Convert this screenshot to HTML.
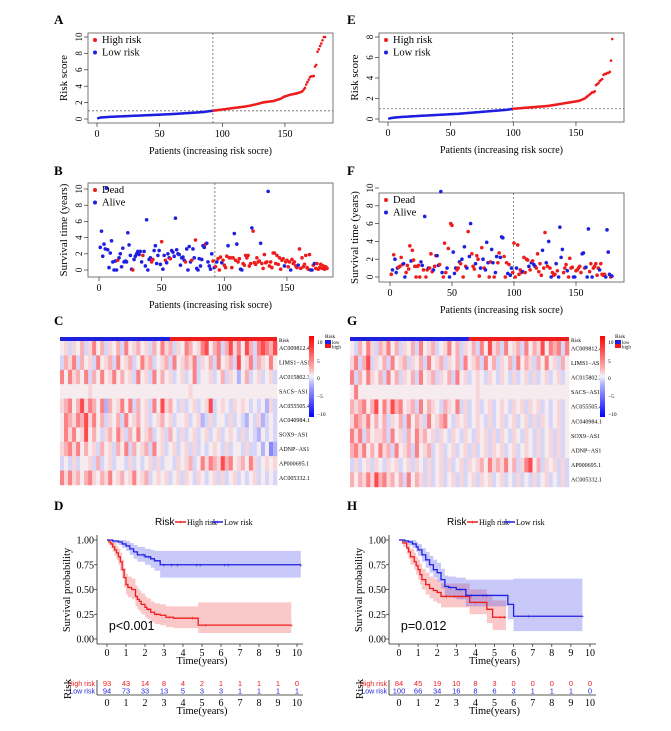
<!DOCTYPE html>
<html><head><meta charset="utf-8"><style>
body{margin:0;background:#fff}
svg{display:block;font-family:"Liberation Serif",serif}
</style></head><body>
<svg id="fig" width="671" height="731" viewBox="0 0 671 731" xmlns="http://www.w3.org/2000/svg"></svg>
<script>
// ---------- DATA ----------
const scoreLowA=[0.10,0.15,0.18,0.20,0.21,0.22,0.23,0.24,0.25,0.26,0.27,0.28,0.28,0.29,0.30,0.30,0.31,0.32,0.32,0.33,0.34,0.34,0.35,0.36,0.36,0.37,0.38,0.38,0.39,0.40,0.40,0.41,0.42,0.42,0.43,0.44,0.44,0.45,0.46,0.46,0.47,0.48,0.48,0.49,0.50,0.50,0.51,0.52,0.52,0.53,0.54,0.55,0.55,0.56,0.57,0.58,0.58,0.59,0.60,0.61,0.62,0.62,0.63,0.64,0.65,0.66,0.67,0.68,0.69,0.70,0.71,0.72,0.73,0.74,0.75,0.76,0.77,0.78,0.79,0.80,0.81,0.82,0.84,0.85,0.86,0.88,0.90,0.92,0.94,0.96,0.98,1.00];
const scoreHighA=[1.02,1.04,1.06,1.08,1.10,1.12,1.14,1.16,1.18,1.20,1.22,1.24,1.26,1.28,1.30,1.32,1.34,1.36,1.38,1.40,1.42,1.44,1.46,1.48,1.50,1.52,1.55,1.58,1.60,1.63,1.66,1.70,1.73,1.76,1.80,1.84,1.88,1.92,1.96,2.00,2.03,2.06,2.08,2.10,2.12,2.14,2.16,2.18,2.20,2.25,2.30,2.35,2.40,2.45,2.50,2.60,2.70,2.75,2.80,2.85,2.90,2.95,3.00,3.00,3.05,3.10,3.10,3.15,3.20,3.25,3.30,3.40,3.60,3.80,4.20,4.50,4.80,5.10,5.20,5.20,5.25,6.40,6.60,8.20,8.50,8.90,9.20,9.60,10.0,10.0];
const survA=[2.8,4.8,1.7,3.2,2.6,10.1,2.5,0.3,2.1,3.6,1.0,0.0,1.1,0.0,1.2,1.5,2.0,0.4,2.7,1.0,1.1,1.0,4.6,3.1,1.8,0.1,0.0,1.3,1.7,2.0,2.3,1.9,2.3,1.0,1.8,2.3,0.5,6.2,0.0,1.3,1.5,1.0,1.3,2.4,3.0,0.8,1.8,2.4,0.7,3.5,0.1,1.8,1.2,0.9,2.0,1.5,1.4,2.4,2.2,1.7,6.4,2.5,2.0,1.9,0.6,1.5,1.6,1.2,1.0,2.6,0.0,2.9,1.0,1.2,2.6,1.5,3.7,0.2,0.0,1.4,0.5,1.3,3.0,2.8,3.2,3.3,1.0,0.5,0.1,2.0,1.1,0.3,
0.4,1.0,1.4,0.0,1.6,0.9,1.2,0.6,0.3,1.7,3.0,1.5,1.5,0.3,1.5,4.5,1.2,3.2,1.0,1.4,0.1,0.0,0.8,0.6,1.8,1.5,1.8,0.5,0.8,5.2,4.8,0.9,0.7,1.5,1.0,1.1,3.3,0.8,0.2,1.9,0.9,1.0,9.7,0.5,1.0,0.3,2.1,2.1,0.8,1.8,0.7,1.5,0.1,1.2,1.4,0.5,1.0,1.2,0.4,1.0,0.0,1.3,0.8,1.0,0.5,0.3,0.6,2.6,0.2,1.5,0.4,0.7,1.8,0.3,0.1,1.9,0.0,0.0,0.6,0.8,0.2,0.8,0.1,0.3,0.7,0.2,0.5,0.1,0.4,0.2];
const deadA=("0000000000"+"0000100000"+"0000001000"+"0000100000"+"0110000001"+"0010001000"+"0000000010"+"0001001000"+"0000100000"+"10"+
"1011101111"+"0111101011"+"0011111110"+"1111110111"+"1101111111"+"1111101111"+"0111110111"+"1111110010"+"1111111111").split("");

const scoreLowE=[0.05,0.08,0.10,0.12,0.14,0.15,0.16,0.17,0.18,0.19,0.20,0.21,0.22,0.22,0.23,0.24,0.25,0.25,0.26,0.27,0.28,0.28,0.29,0.30,0.30,0.31,0.32,0.32,0.33,0.34,0.34,0.35,0.36,0.36,0.37,0.38,0.38,0.39,0.40,0.40,0.41,0.42,0.42,0.43,0.44,0.44,0.45,0.46,0.46,0.47,0.48,0.48,0.49,0.50,0.50,0.51,0.52,0.53,0.54,0.55,0.56,0.57,0.58,0.59,0.60,0.61,0.62,0.63,0.64,0.65,0.66,0.67,0.68,0.69,0.70,0.71,0.72,0.73,0.74,0.75,0.76,0.77,0.78,0.79,0.80,0.81,0.82,0.83,0.84,0.85,0.86,0.87,0.88,0.89,0.90,0.92,0.94,0.96,0.98];
const scoreHighE=[1.00,1.01,1.02,1.03,1.04,1.05,1.06,1.07,1.08,1.09,1.10,1.11,1.12,1.13,1.14,1.15,1.16,1.17,1.18,1.19,1.20,1.21,1.22,1.23,1.24,1.25,1.26,1.27,1.28,1.30,1.32,1.34,1.36,1.38,1.40,1.42,1.44,1.46,1.48,1.50,1.52,1.54,1.56,1.58,1.60,1.62,1.64,1.66,1.68,1.70,1.72,1.74,1.76,1.80,1.85,1.90,1.95,2.00,2.10,2.20,2.30,2.40,2.50,2.60,2.60,2.70,3.30,3.40,3.50,3.70,3.80,3.90,4.30,4.40,4.40,4.50,4.50,4.60,5.70,7.80];
const survE=[0.3,0.8,2.5,2.0,0.5,1.0,1.1,1.2,2.2,1.4,1.5,0.0,0.5,1.3,0.9,3.5,1.8,3.0,1.9,1.2,0.0,1.2,1.3,0.0,1.7,1.3,0.8,6.8,0.0,0.8,1.0,1.0,2.6,0.6,0.8,1.2,2.4,2.4,1.3,1.4,9.6,0.5,0.0,3.8,0.5,1.0,3.2,0.0,6.0,5.8,2.8,0.4,1.0,0.8,1.0,1.7,1.5,2.0,0.0,3.4,1.2,1.0,5.1,2.3,6.0,2.6,1.2,0.9,1.5,2.4,2.0,0.1,1.0,3.3,2.0,1.0,0.8,3.9,1.6,0.0,1.7,3.1,1.6,0.0,0.5,2.3,1.6,2.7,2.2,4.5,4.4,2.3,0.0,1.6,0.4,1.4,0.2,1.0,0.5,
3.8,0.0,1.0,3.6,0.3,0.8,0.5,0.6,2.2,0.5,2.0,1.9,1.2,0.8,1.6,1.8,1.4,1.2,1.0,2.6,0.6,1.5,0.2,3.0,1.0,5.0,1.6,1.2,4.0,1.0,0.0,0.5,0.2,0.3,1.5,0.7,0.0,5.6,2.2,3.1,0.5,1.0,1.4,0.7,0.0,2.1,1.0,1.1,0.0,0.0,0.7,0.8,1.0,1.2,0.5,2.6,2.7,1.0,1.1,0.0,5.4,0.6,1.5,0.0,1.0,1.2,1.5,0.2,1.0,0.8,1.5,0.3,0.2,0.3,0.0,5.3,2.8,0.3,0.0,0.1];
const deadE=("1010001111"+"0011110111"+"1111001011"+"0111011001"+"0011101011"+"0001101010"+"1010011101"+"1101010001"+"1001001100"+"011101001"+
"1101111011"+"1101010011"+"1110110101"+"0111010000"+"1110111100"+"1111100100"+"0110111110"+"1111000010").split("");

const genes=["AC009812.4","LIMS1\u2212AS1","AC015802.3","SACS\u2212AS1","AC055505.4","AC040984.1","SOX9\u2212AS1","ADNP\u2212AS1","AP000695.1","AC005332.1"];
const heatC=["453546357463546374564536475635476457846736857486379768","365736453745637456347563456374565735463745638457365474","747564736474574645374537464534534734453463542463453453",
"444444454444444444444444444444445444444444444444444444","567468576472645747364537485643534534583454354543434253","476576857463546374564534564534453452353443534324352343",
"475745846435647536474563453643534534534534543534324343","567574645364536473645637453453453534345435344353342412","343534453634534435343453534435456347576586745647534545",
"757564675465745645745634545345354354345353453434534343"];
const heatG=["436475365746354637456345746354637485637456374658476737","573683546374563546374563546374563746354637465364745364","736475463746354637456354637453454354354353453534534534",
"474444444444444444444444444444454444444444444444444444","656746847586745637465436547353453453454354535453434534","576574646354637465374567435453454353453453453535434534",
"757364556374536475645354354354354535354354354353453534","675746475637456374563453453453534535453453454353453534","353453543545345354353453534535456475657463578463545353",
"646575867564637465353453453534535453453435343534534353"];

const kmDhiT=[0,0.1,0.2,0.3,0.4,0.5,0.6,0.7,0.8,0.9,1.0,1.1,1.3,1.5,1.6,1.7,1.8,2.0,2.1,2.3,2.5,2.8,3.1,3.5,4.8];
const kmDhiS=[1,0.98,0.96,0.93,0.9,0.87,0.83,0.78,0.7,0.62,0.55,0.52,0.5,0.43,0.4,0.38,0.35,0.32,0.3,0.27,0.25,0.24,0.22,0.21,0.14];
const kmDhiLo=[1,.95,.92,.88,.84,.8,.75,.69,.61,.52,.45,.42,.4,.33,.3,.28,.25,.22,.2,.17,.15,.14,.12,.11,.06];
const kmDhiHi=[1,1,1,.99,.97,.94,.91,.87,.8,.72,.66,.63,.61,.54,.51,.49,.46,.43,.41,.38,.36,.35,.33,.33,.37];
const kmDloT=[0,0.3,0.6,0.8,1.0,1.2,1.4,1.6,2.0,2.3,2.5,2.8];
const kmDloS=[1,0.99,0.98,0.96,0.94,0.91,0.88,0.85,0.83,0.81,0.79,0.75];
const kmDloLo=[1,.97,.95,.92,.89,.85,.81,.78,.75,.72,.69,.62];
const kmDloHi=[1,1,1,1,.99,.97,.95,.93,.91,.90,.89,.89];
const kmHhiT=[0,0.2,0.4,0.5,0.6,0.8,0.9,1.0,1.1,1.2,1.4,1.6,1.8,2.0,2.2,3.7,4.6,4.9];
const kmHhiS=[1,.97,.92,.88,.83,.78,.74,.7,.65,.6,.55,.51,.49,.47,.43,.37,.3,.22];
const kmHhiLo=[1,.93,.86,.81,.75,.7,.65,.6,.55,.5,.45,.41,.38,.36,.32,.25,.16,.09];
const kmHhiHi=[1,1,.98,.95,.91,.87,.83,.8,.76,.71,.67,.63,.61,.59,.56,.5,.45,.39];
const kmHloT=[0,0.3,0.5,0.7,0.9,1.0,1.2,1.4,1.6,1.8,2.0,2.2,2.4,2.6,3.0,3.5,5.7,6.0];
const kmHloS=[1,.99,.98,.96,.93,.9,.85,.8,.75,.7,.67,.6,.53,.52,.5,.44,.35,.23];
const kmHloLo=[1,.97,.95,.92,.88,.84,.78,.72,.67,.62,.58,.51,.43,.42,.4,.33,.2,.08];
const kmHloHi=[1,1,1,1,.98,.96,.92,.88,.84,.8,.77,.71,.64,.63,.62,.6,.6,.61];
const riskHighD=[93,43,14,8,4,2,1,1,1,1,0];
const riskLowD=[94,73,33,13,5,3,3,1,1,1,1];
const riskHighH=[84,45,19,10,8,3,0,0,0,0,0];
const riskLowH=[100,66,34,16,8,6,3,1,1,1,0];

// ---------- DRAW ----------
const NS="http://www.w3.org/2000/svg";
const svg=document.getElementById("fig");
function el(tag,attrs,parent,text){const e=document.createElementNS(NS,tag);for(const k in attrs)e.setAttribute(k,attrs[k]);if(text!==undefined)e.textContent=text;(parent||svg).appendChild(e);return e;}
function group(name){const g=el("g",{});return g;}
function txt(g,x,y,s,size,extra){const t=el("text",Object.assign({x:x,y:y,"font-size":size},extra||{}),g,s);return t;}

function panelLabel(x,y,s){const t=txt(svg,x,y,s,13,{"font-weight":"bold"});}

function scatterPanel(o){
  const g=group(o.name);
  const X=v=>o.x0+v*o.xs, Y=v=>o.y0-v*o.ys;
  el("rect",{x:o.bx1,y:o.by1,width:o.bx2-o.bx1,height:o.by2-o.by1,fill:"none",stroke:"#555","stroke-width":0.8},g);
  o.yticks.forEach(v=>{el("line",{x1:o.bx1,x2:o.bx1-4,y1:Y(v),y2:Y(v),stroke:"#333","stroke-width":0.7},g);
    txt(g,o.bx1-6,Y(v),String(v),9,{transform:`rotate(-90 ${o.bx1-6} ${Y(v)})`,"text-anchor":"middle"});});
  [0,50,100,150].forEach(v=>{el("line",{x1:X(v),x2:X(v),y1:o.by2,y2:o.by2+4,stroke:"#333","stroke-width":0.7},g);
    txt(g,X(v),o.by2+14,String(v),10,{"text-anchor":"middle"});});
  txt(g,(o.bx1+o.bx2)/2,o.by2+31,"Patients (increasing risk socre)",10,{"text-anchor":"middle"});
  const yc=(o.by1+o.by2)/2;
  txt(g,o.bx1-21,yc,o.ytitle,11,{transform:`rotate(-90 ${o.bx1-21} ${yc})`,"text-anchor":"middle"});
  el("line",{x1:X(o.cut+0.5),x2:X(o.cut+0.5),y1:o.by1,y2:o.by2,stroke:"#666","stroke-dasharray":"2,2","stroke-width":0.8},g);
  if(o.hline!==undefined) el("line",{x1:o.bx1,x2:o.bx2,y1:Y(o.hline),y2:Y(o.hline),stroke:"#666","stroke-dasharray":"2,2","stroke-width":0.8},g);
  o.vals.forEach((v,i)=>{const c=el("circle",{cx:X(i+1),cy:Y(v),r:o.r,fill:o.col(i)},g);
    });
  o.legend.forEach((l,k)=>{const ly=o.by1+10+k*12.5;el("circle",{cx:o.bx1+7,cy:ly-3,r:2,fill:l[1]},g);txt(g,o.bx1+14,ly,l[0],10.5);});
}
panelLabel(54,24,"A");panelLabel(54,175,"B");panelLabel(54,325,"C");panelLabel(54,510,"D");
panelLabel(347,24,"E");panelLabel(347,175,"F");panelLabel(347,325,"G");panelLabel(347,510,"H");

const scoreA=scoreLowA.concat(scoreHighA), scoreE=scoreLowE.concat(scoreHighE);
scatterPanel({name:"risk-score-plot-a",bx1:88,bx2:333,by1:33,by2:123,x0:97,xs:1.253,y0:119,ys:8.2,yticks:[0,2,4,6,8,10],ytitle:"Risk score",
  cut:scoreLowA.length,hline:1,vals:scoreA,r:1.3,col:i=>i<scoreLowA.length?"#1f1fe0":"#ee1c1c",legend:[["High risk","#ee1c1c"],["Low  risk","#1f1fe0"]]});
scatterPanel({name:"survival-time-plot-b",bx1:88,bx2:333,by1:183,by2:277,x0:99,xs:1.253,y0:270,ys:8.1,yticks:[0,2,4,6,8,10],ytitle:"Survival time (years)",
  cut:scoreLowA.length,vals:survA,r:1.8,col:i=>deadA[i]==="1"?"#ee1c1c":"#1f1fe0",legend:[["Dead","#ee1c1c"],["Alive","#1f1fe0"]]});
scatterPanel({name:"risk-score-plot-e",bx1:379,bx2:624,by1:33,by2:122,x0:388,xs:1.253,y0:119,ys:10.25,yticks:[0,2,4,6,8],ytitle:"Risk score",
  cut:scoreLowE.length,hline:1,vals:scoreE,r:1.3,col:i=>i<scoreLowE.length?"#1f1fe0":"#ee1c1c",legend:[["High risk","#ee1c1c"],["Low  risk","#1f1fe0"]]});
scatterPanel({name:"survival-time-plot-f",bx1:379,bx2:624,by1:193,by2:282,x0:390,xs:1.24,y0:277,ys:8.9,yticks:[0,2,4,6,8,10],ytitle:"Survival time (years)",
  cut:scoreLowE.length,vals:survE,r:1.8,col:i=>deadE[i]==="1"?"#ee1c1c":"#1f1fe0",legend:[["Dead","#ee1c1c"],["Alive","#1f1fe0"]]});

function heatColor(d){const v=(d-4)/4;
  if(v>=0){const a=Math.pow(Math.min(1,v),1.4)*0.8;return `rgb(${Math.round(246+9*a)},${Math.round(236-200*a)},${Math.round(240-200*a)})`;}
  const a=Math.pow(Math.min(1,-v),1.4)*0.75;return `rgb(${Math.round(236-200*a)},${Math.round(236-200*a)},${Math.round(250-5*a)})`;}
function heatmap(o){
  const g=group(o.name);
  const W=o.x2-o.x1, split=o.x1+W*o.frac;
  el("rect",{x:o.x1,y:o.y1,width:split-o.x1,height:4,fill:"#1f1fe0"},g);
  el("rect",{x:split,y:o.y1,width:o.x2-split,height:4,fill:"#ee1c1c"},g);
  txt(g,o.x2+2,o.y1+5,"Risk",5.5);
  const rh=(o.y2-o.y1-4)/o.rows.length;
  o.rows.forEach((row,r)=>{const cw=W/row.length;
    row.split("").forEach((d,c)=>{const cell=el("rect",{x:o.x1+c*cw,y:o.y1+4+r*rh,width:cw+0.3,height:rh+0.2,fill:heatColor(+d)},g);
      });
    txt(g,o.x2+2,o.y1+4+r*rh+rh/2+2,genes[r],6);});
  const gd=el("linearGradient",{id:o.name+"-grad",x1:0,y1:0,x2:0,y2:1},g);
  [["0","#ff0000"],["0.4","#ffb0b0"],["0.5","#f2f2fa"],["0.6","#b0b0ff"],["1","#0000ff"]].forEach(s=>el("stop",{offset:s[0],"stop-color":s[1]},gd));
  el("rect",{x:o.cbx,y:336,width:5,height:81,fill:`url(#${o.name}-grad)`},g);
  [["10",342],["5",361],["0",378],["\u22125",396],["\u221210",414]].forEach(t=>txt(g,o.cbx+8,t[1]+2,t[0],5.5));
  txt(g,o.lgx,338,"Risk",5.5);
  el("rect",{x:o.lgx,y:340,width:6,height:4,fill:"#1f1fe0"},g);txt(g,o.lgx+7,344,"low",5);
  el("rect",{x:o.lgx,y:344,width:6,height:4,fill:"#ee1c1c"},g);txt(g,o.lgx+7,348.5,"high",5);
}
heatmap({name:"heatmap-c",x1:60,x2:277,y1:337,y2:485,frac:0.507,rows:heatC,cbx:309,lgx:325});
heatmap({name:"heatmap-g",x1:350,x2:569,y1:337,y2:487,frac:0.543,rows:heatG,cbx:600,lgx:615});

function stepPath(T,S,end,X,Y){let d=`M${X(T[0])},${Y(S[0])}`;for(let i=1;i<T.length;i++){d+=`H${X(T[i])}V${Y(S[i])}`;}return d+`H${X(end)}`;}
function bandPath(T,L,H,end,X,Y){let up=`M${X(T[0])},${Y(H[0])}`;for(let i=1;i<T.length;i++)up+=`H${X(T[i])}V${Y(H[i])}`;up+=`H${X(end)}V${Y(L[L.length-1])}`;
  for(let i=T.length-1;i>=1;i--)up+=`H${X(T[i])}V${Y(L[i-1])}`;return up+`H${X(T[0])}Z`;}
function kmPanel(o){
  const g=group(o.name);
  const X=t=>o.x0+t*o.xs, Y=s=>639-s*99;
  txt(g,o.lgx,525,"Risk",10,{"font-family":"Liberation Sans,sans-serif"});
  [[o.lgx+20,"#ee1c1c","High risk"],[o.lgx+57,"#1f1fe0","Low risk"]].forEach(l=>{
    el("line",{x1:l[0],x2:l[0]+11,y1:522,y2:522,stroke:l[1],"stroke-width":1.5},g);
    txt(g,l[0]+5.5,524.5,"+",7,{"text-anchor":"middle",fill:l[1]});txt(g,l[0]+12,525,l[2],8);});
  o.series.forEach(s=>{
    el("path",{d:bandPath(s.T,s.L,s.H,s.end,X,Y),fill:s.fill,"fill-opacity":0.35,stroke:"none"},g);});
  o.series.forEach(s=>{
    const p=el("path",{d:stepPath(s.T,s.S,s.end,X,Y),fill:"none",stroke:s.col,"stroke-width":1.3},g);
    
    s.cens.forEach(c=>{let i=0;while(i+1<s.T.length&&s.T[i+1]<=c)i++;txt(g,X(c),Y(s.S[i])+2.5,"+",7,{"text-anchor":"middle",fill:s.col});});});
  el("line",{x1:o.ax,x2:o.ax,y1:535,y2:644,stroke:"#222","stroke-width":0.8},g);
  el("line",{x1:o.ax,x2:X(10)+6,y1:644,y2:644,stroke:"#222","stroke-width":0.8},g);
  [1,0.75,0.5,0.25,0].forEach(v=>{el("line",{x1:o.ax-3,x2:o.ax,y1:Y(v),y2:Y(v),stroke:"#222","stroke-width":0.7},g);
    txt(g,o.ax-3,Y(v)+3.5,v.toFixed(2),10,{"text-anchor":"end"});});
  for(let t=0;t<=10;t++){el("line",{x1:X(t),x2:X(t),y1:644,y2:647,stroke:"#222","stroke-width":0.7},g);txt(g,X(t),656,String(t),10,{"text-anchor":"middle"});}
  txt(g,X(5),664,"Time(years)",10.5,{"text-anchor":"middle"});
  txt(g,o.ax-27,590,"Survival probability",10.5,{transform:`rotate(-90 ${o.ax-27} 590)`,"text-anchor":"middle"});
  txt(g,X(0.1),630,o.p,12.5,{"font-family":"Liberation Sans,sans-serif"});
  const tg=group(o.name+"-risk-table");
  txt(tg,o.ax-2,686,"High risk",7,{"text-anchor":"end",fill:"#ee1c1c","font-family":"Liberation Sans,sans-serif"});
  txt(tg,o.ax-2,693.5,"Low risk",7,{"text-anchor":"end",fill:"#1f1fe0","font-family":"Liberation Sans,sans-serif"});
  o.rh.forEach((n,t)=>txt(tg,X(t),686,String(n),7.5,{"text-anchor":"middle",fill:"#ee1c1c","font-family":"Liberation Sans,sans-serif"}));
  o.rl.forEach((n,t)=>txt(tg,X(t),693.5,String(n),7.5,{"text-anchor":"middle",fill:"#1f1fe0","font-family":"Liberation Sans,sans-serif"}));
  el("line",{x1:o.ax,x2:X(10)+6,y1:695,y2:695,stroke:"#222","stroke-width":0.8},tg);
  el("line",{x1:o.ax,x2:o.ax,y1:680,y2:695,stroke:"#222","stroke-width":0.8},tg);
  for(let t=0;t<=10;t++){txt(tg,X(t),706,String(t),10,{"text-anchor":"middle"});}
  txt(tg,X(5),714,"Time(years)",10.5,{"text-anchor":"middle"});
  txt(tg,o.ax-26,689,"Risk",11,{transform:`rotate(-90 ${o.ax-26} 689)`,"text-anchor":"middle"});
}
kmPanel({name:"km-plot-d",x0:107,xs:19,ax:97,lgx:155,p:"p<0.001",rh:riskHighD,rl:riskLowD,series:[
  {nm:"high-risk-curve",T:kmDhiT,S:kmDhiS,L:kmDhiLo,H:kmDhiHi,end:9.7,col:"#ee1c1c",fill:"#f26060",cens:[2.2,2.6,3.3,4.5,5.2,9.7]},
  {nm:"low-risk-curve",T:kmDloT,S:kmDloS,L:kmDloLo,H:kmDloHi,end:10.2,col:"#1f1fe0",fill:"#6060ee",cens:[1.9,2.2,3.0,3.4,3.7,4.7,4.9,6.2,6.4,10.2]}]});
kmPanel({name:"km-plot-h",x0:399,xs:19.1,ax:389,lgx:447,p:"p=0.012",rh:riskHighH,rl:riskLowH,series:[
  {nm:"high-risk-curve",T:kmHhiT,S:kmHhiS,L:kmHhiLo,H:kmHhiHi,end:5.6,col:"#ee1c1c",fill:"#f26060",cens:[2.5,2.9,3.3,4.0,5.3,5.5]},
  {nm:"low-risk-curve",T:kmHloT,S:kmHloS,L:kmHloLo,H:kmHloHi,end:9.6,col:"#1f1fe0",fill:"#6060ee",cens:[2.7,3.2,3.8,4.4,4.6,6.8,9.6]}]});
</script>
</body></html>
